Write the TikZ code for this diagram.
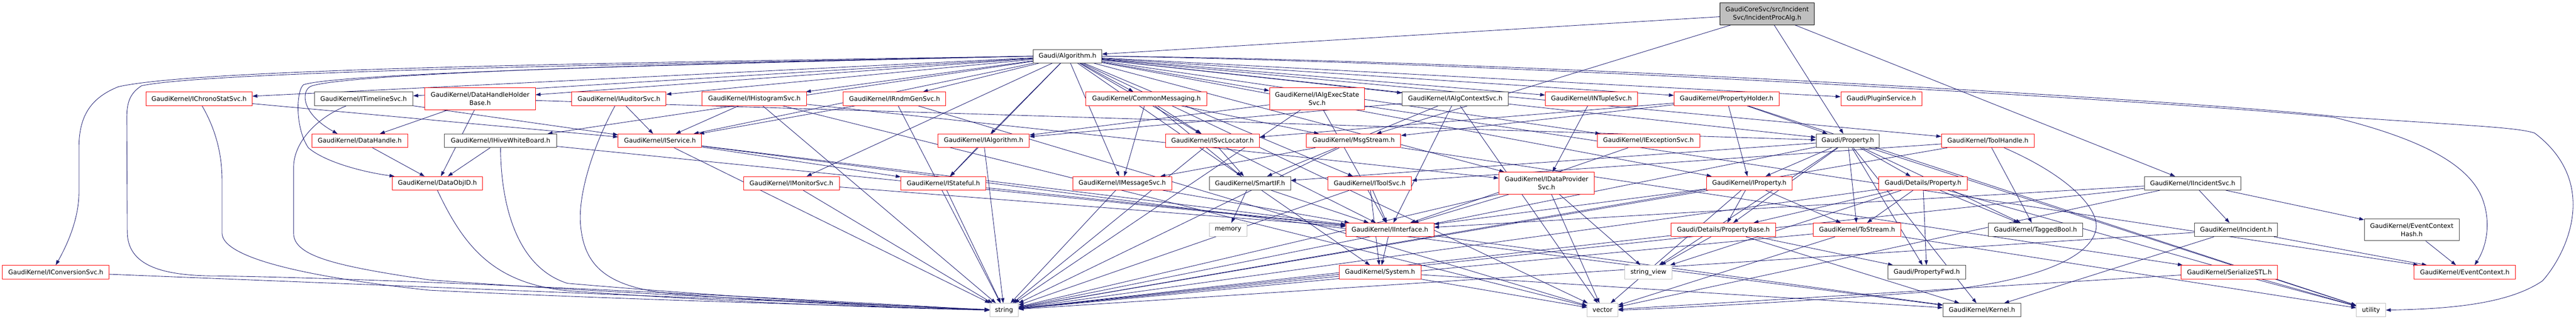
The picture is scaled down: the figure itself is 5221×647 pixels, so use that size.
\documentclass[tikz,border=0pt]{standalone}
\usepackage{fontspec}
\setmainfont{DejaVu Sans}
\usetikzlibrary{arrows.meta,backgrounds}
\definecolor{edgec}{HTML}{191970}
\definecolor{gtwentyfive}{HTML}{404040}
\definecolor{gseventyfive}{HTML}{BFBFBF}
\tikzset{
 nd/.style={draw, fill=white, line width=1pt, inner sep=0pt, font=\fontsize{12.8}{16.5}\selectfont, align=center, text=black},
 rednd/.style={nd, draw=red},
 blknd/.style={nd, draw=gtwentyfive},
 sysnd/.style={nd, draw=gseventyfive},
 topnd/.style={nd, draw=black, fill=gseventyfive},
 hone/.style={minimum height=27.5pt},
 htwo/.style={minimum height=44.5pt},
 dep/.style={draw=edgec, line width=0.9pt, -{Triangle[length=10pt,width=7pt]}},
}
\begin{document}
\begin{tikzpicture}[x=1pt,y=-1pt]
\useasboundingbox (0,0) rectangle (5221,647);
% top and level 1
\node[topnd,htwo,minimum width=191pt] (top) at (3581.5,28.2) {GaudiCoreSvc/src/Incident\\Svc/IncidentProcAlg.h};
\node[blknd,hone,minimum width=139pt] (alg) at (2163.5,114) {Gaudi/Algorithm.h};
% row 1
\node[rednd,hone,minimum width=215pt] (chrono) at (403.5,200.5) {GaudiKernel/IChronoStatSvc.h};
\node[blknd,hone,minimum width=200pt] (timeline) at (737,200.5) {GaudiKernel/ITimelineSvc.h};
\node[rednd,htwo,minimum width=224pt] (dhhb) at (973,200.5) {GaudiKernel/DataHandleHolder\\Base.h};
\node[rednd,hone,minimum width=191pt] (auditor) at (1254.5,200.5) {GaudiKernel/IAuditorSvc.h};
\node[rednd,hone,minimum width=212pt] (histo) at (1529,200.5) {GaudiKernel/IHistogramSvc.h};
\node[rednd,hone,minimum width=208pt] (rndm) at (1813,200.5) {GaudiKernel/IRndmGenSvc.h};
\node[rednd,hone,minimum width=245pt] (common) at (2323.5,200.5) {GaudiKernel/CommonMessaging.h};
\node[rednd,htwo,minimum width=193pt] (execstate) at (2669.5,200.5) {GaudiKernel/IAlgExecState\\Svc.h};
\node[blknd,hone,minimum width=215pt] (algctx) at (2949.5,200.5) {GaudiKernel/IAlgContextSvc.h};
\node[rednd,hone,minimum width=187pt] (ntuple) at (3225.5,200.5) {GaudiKernel/INTupleSvc.h};
\node[rednd,hone,minimum width=213pt] (propholder) at (3499.5,200.5) {GaudiKernel/PropertyHolder.h};
\node[rednd,hone,minimum width=164pt] (plugin) at (3813,200.5) {Gaudi/PluginService.h};
% row 2
\node[rednd,hone,minimum width=194pt] (datahandle) at (729,285.7) {GaudiKernel/DataHandle.h};
\node[blknd,hone,minimum width=227pt] (hive) at (1014.5,285.7) {GaudiKernel/IHiveWhiteBoard.h};
\node[rednd,hone,minimum width=169pt] (iservice) at (1337.5,285.7) {GaudiKernel/IService.h};
\node[rednd,hone,minimum width=185pt] (ialg) at (1993.5,285.7) {GaudiKernel/IAlgorithm.h};
\node[rednd,hone,minimum width=191pt] (svcloc) at (2457.5,285.7) {GaudiKernel/ISvcLocator.h};
\node[rednd,hone,minimum width=191pt] (msgstream) at (2743.5,285.7) {GaudiKernel/MsgStream.h};
\node[rednd,hone,minimum width=208pt] (exception) at (3341,285.7) {GaudiKernel/IExceptionSvc.h};
\node[blknd,hone,minimum width=128pt] (prop) at (3745,285.7) {Gaudi/Property.h};
\node[rednd,hone,minimum width=188pt] (toolhandle) at (4029,285.7) {GaudiKernel/ToolHandle.h};
% row 3
\node[rednd,hone,minimum width=183pt] (dataobjid) at (886.5,372) {GaudiKernel/DataObjID.h};
\node[rednd,hone,minimum width=194pt] (monitor) at (1604,372) {GaudiKernel/IMonitorSvc.h};
\node[rednd,hone,minimum width=172pt] (istateful) at (1912,372) {GaudiKernel/IStateful.h};
\node[rednd,hone,minimum width=201pt] (imsgsvc) at (2274.5,372) {GaudiKernel/IMessageSvc.h};
\node[blknd,hone,minimum width=165pt] (smartif) at (2533.5,372) {GaudiKernel/SmartIF.h};
\node[rednd,hone,minimum width=170pt] (itoolsvc) at (2776,372) {GaudiKernel/IToolSvc.h};
\node[rednd,htwo,minimum width=193pt] (dataprov) at (3134.5,371.7) {GaudiKernel/IDataProvider\\Svc.h};
\node[rednd,hone,minimum width=173pt] (iproperty) at (3545.5,372) {GaudiKernel/IProperty.h};
\node[rednd,hone,minimum width=179pt] (detprop) at (3897.5,372) {Gaudi/Details/Property.h};
\node[blknd,hone,minimum width=196pt] (incsvc) at (4444,372) {GaudiKernel/IIncidentSvc.h};
% row 4
\node[sysnd,hone,minimum width=76pt] (memory) at (2489,466.4) {memory};
\node[rednd,hone,minimum width=178pt] (iinterface) at (2817,466.4) {GaudiKernel/IInterface.h};
\node[rednd,hone,minimum width=212pt] (propbase) at (3493,466.4) {Gaudi/Details/PropertyBase.h};
\node[rednd,hone,minimum width=178pt] (tostream) at (3764,466.4) {GaudiKernel/ToStream.h};
\node[blknd,hone,minimum width=191pt] (taggedbool) at (4125.5,466.4) {GaudiKernel/TaggedBool.h};
\node[blknd,hone,minimum width=168pt] (incident) at (4532,466.4) {GaudiKernel/Incident.h};
\node[blknd,htwo,minimum width=192pt] (echash) at (4888,466.4) {GaudiKernel/EventContext\\Hash.h};
% row 5
\node[rednd,hone,minimum width=216pt] (conversion) at (113,552.3) {GaudiKernel/IConversionSvc.h};
\node[rednd,hone,minimum width=166pt] (system) at (2797,552.3) {GaudiKernel/System.h};
\node[sysnd,hone,minimum width=96pt] (strview) at (3341,552.3) {string\_view};
\node[blknd,hone,minimum width=158pt] (propfwd) at (3905,552.3) {Gaudi/PropertyFwd.h};
\node[rednd,hone,minimum width=195pt] (serial) at (4518.5,552.3) {GaudiKernel/SerializeSTL.h};
\node[rednd,hone,minimum width=205pt] (evctx) at (4995.5,552.3) {GaudiKernel/EventContext.h};
% row 6
\node[sysnd,hone,minimum width=58pt] (string) at (2035,629.4) {string};
\node[sysnd,hone,minimum width=62pt] (vector) at (3248,629.4) {vector};
\node[blknd,hone,minimum width=158pt] (kernel) at (4017,629.4) {GaudiKernel/Kernel.h};
\node[sysnd,hone,minimum width=59pt] (utility) at (4805.5,629.4) {utility};

\begin{pgfonlayer}{background}
\foreach \t in {alg,msgstream,incsvc,prop} \draw[dep] (top) -- (\t);
\foreach \t in {chrono,timeline,dhhb,auditor,histo,rndm,common,execstate,algctx,ntuple,propholder,plugin,hive,iservice,ialg,svcloc,exception,prop,toolhandle,monitor,istateful,imsgsvc,itoolsvc,dataprov,iproperty,system,vector} \draw[dep] (alg) -- (\t);
% curved long routes on the left
\draw[dep] (alg.west) .. controls (1200,128) and (400,140) .. (240,176) .. controls (180,200) and (160,240) .. (160,300) -- (160,390) .. controls (160,440) and (140,490) .. (conversion.north);
\draw[dep] (alg.west) .. controls (1200,132) and (420,146) .. (287,174) .. controls (262,190) and (257,210) .. (257,240) -- (258,470) .. controls (258,540) and (330,560) .. (440,560) .. controls (800,565) and (1600,605) .. (string.west);
\draw[dep] (alg.west) .. controls (1300,130) and (700,150) .. (630,175) .. controls (610,185) and (610,230) .. ([xshift=-45pt]datahandle.north);
\draw[dep] (alg.west) .. controls (1300,132) and (680,150) .. (615,172) .. controls (600,185) and (598,260) .. (625,300) .. controls (660,330) and (740,350) .. ([xshift=5pt]dataobjid.north west);
\draw[dep] ([xshift=6pt]chrono.south) .. controls (430,250) and (450,300) .. (450,365) -- (450,473) .. controls (450,520) and (600,560) .. (870,589) .. controls (1300,610) and (1800,622) .. (string.west);
\draw[dep] ([xshift=-35pt]timeline.south) .. controls (640,240) and (595,290) .. (595,340) -- (595,473) .. controls (595,520) and (680,540) .. (870,568) .. controls (1300,600) and (1800,618) .. (string.west);
\draw[dep] (dataobjid.south) .. controls (940,500) and (1000,575) .. (1150,590) .. controls (1500,615) and (1800,625) .. (string.west);
\draw[dep] ([xshift=-8pt]auditor.south) .. controls (1200,300) and (1170,400) .. (1177,460) .. controls (1185,540) and (1230,580) .. (1350,595) .. controls (1600,615) and (1850,625) .. (string.west);
\draw[dep] (hive.south) .. controls (1015,400) and (1040,540) .. (1150,575) .. controls (1500,605) and (1800,620) .. (string.west);
% curved long routes on the right
\draw[dep] (alg.east) .. controls (3000,120) and (4400,200) .. (4730,236) .. controls (5000,255) and (5100,258) .. (5137,270) .. controls (5190,310) and (5215,360) .. (5215,415) .. controls (5215,480) and (5180,540) .. (5153,570) .. controls (5080,620) and (4950,627) .. (utility.east);
\draw[dep] (alg.east) .. controls (3000,125) and (4400,205) .. (4730,238) .. controls (4900,280) and (5000,330) .. (5030,400) .. controls (5050,450) and (5040,500) .. ([xshift=20pt]evctx.north);
\draw[dep] ([xshift=33pt]toolhandle.south) .. controls (4200,360) and (4260,430) .. (4247,470) .. controls (4230,530) and (4100,580) .. (3870,595) .. controls (3600,615) and (3400,625) .. (vector.east);
\draw[dep] (chrono) -- (iservice);
\draw[dep] (timeline) -- (iservice);
\foreach \t in {datahandle,dataobjid,prop} \draw[dep] (dhhb) -- (\t);
\draw[dep] (datahandle) -- (dataobjid);
\foreach \t in {dataobjid,iinterface} \draw[dep] (hive) -- (\t);
\draw[dep] (auditor) -- (iservice);
\foreach \t in {iservice,dataprov,string,vector} \draw[dep] (histo) -- (\t);
\foreach \t in {iservice,string,vector} \draw[dep] (rndm) -- (\t);
\foreach \t in {imsgsvc,svcloc,smartif,msgstream} \draw[dep] (common) -- (\t);
\foreach \t in {ialg,iinterface,evctx,string} \draw[dep] (execstate) -- (\t);
\foreach \t in {ialg,smartif,iinterface,vector} \draw[dep] (algctx) -- (\t);
\draw[dep] (ntuple) -- (dataprov);
\foreach \t in {prop,iproperty,svcloc,msgstream,utility} \draw[dep] (propholder) -- (\t);
\foreach \t in {istateful,iinterface,kernel,string} \draw[dep] (iservice) -- (\t);
\foreach \t in {istateful,string} \draw[dep] (ialg) -- (\t);
\foreach \t in {smartif,iinterface,string} \draw[dep] (svcloc) -- (\t);
\foreach \t in {imsgsvc,serial,string} \draw[dep] (msgstream) -- (\t);
\draw[dep] (exception) -- (iinterface);
\foreach \t in {detprop,propbase,propfwd,iproperty,kernel,smartif,taggedbool,tostream,string,strview,utility} \draw[dep] (prop) -- (\t);
\foreach \t in {itoolsvc,taggedbool,string} \draw[dep] (toolhandle) -- (\t);
\foreach \t in {iinterface,string} \draw[dep] (monitor) -- (\t);
\foreach \t in {iinterface,string} \draw[dep] (istateful) -- (\t);
\foreach \t in {iinterface,string} \draw[dep] (imsgsvc) -- (\t);
\foreach \t in {iinterface,memory} \draw[dep] (smartif) -- (\t);
\foreach \t in {iinterface,system,string} \draw[dep] (itoolsvc) -- (\t);
\foreach \t in {iinterface,strview,string,vector} \draw[dep] (dataprov) -- (\t);
\foreach \t in {propbase,tostream,iinterface,string,vector} \draw[dep] (iproperty) -- (\t);
\foreach \t in {propbase,tostream,taggedbool,propfwd,strview,string,utility} \draw[dep] (detprop) -- (\t);
\foreach \t in {incident,echash,iinterface,string,vector} \draw[dep] (incsvc) -- (\t);
\foreach \t in {system,kernel} \draw[dep] (iinterface) -- (\t);
\foreach \t in {propfwd,strview,string,kernel} \draw[dep] (propbase) -- (\t);
\foreach \t in {string,vector,utility} \draw[dep] (tostream) -- (\t);
\foreach \t in {evctx,string,kernel} \draw[dep] (incident) -- (\t);
\draw[dep] (echash) -- (evctx);
\foreach \t in {string,vector,kernel} \draw[dep] (system) -- (\t);
\foreach \t in {vector,utility} \draw[dep] (serial) -- (\t);
\draw[dep] (conversion) -- (string);
\end{pgfonlayer}
\end{tikzpicture}
\end{document}
